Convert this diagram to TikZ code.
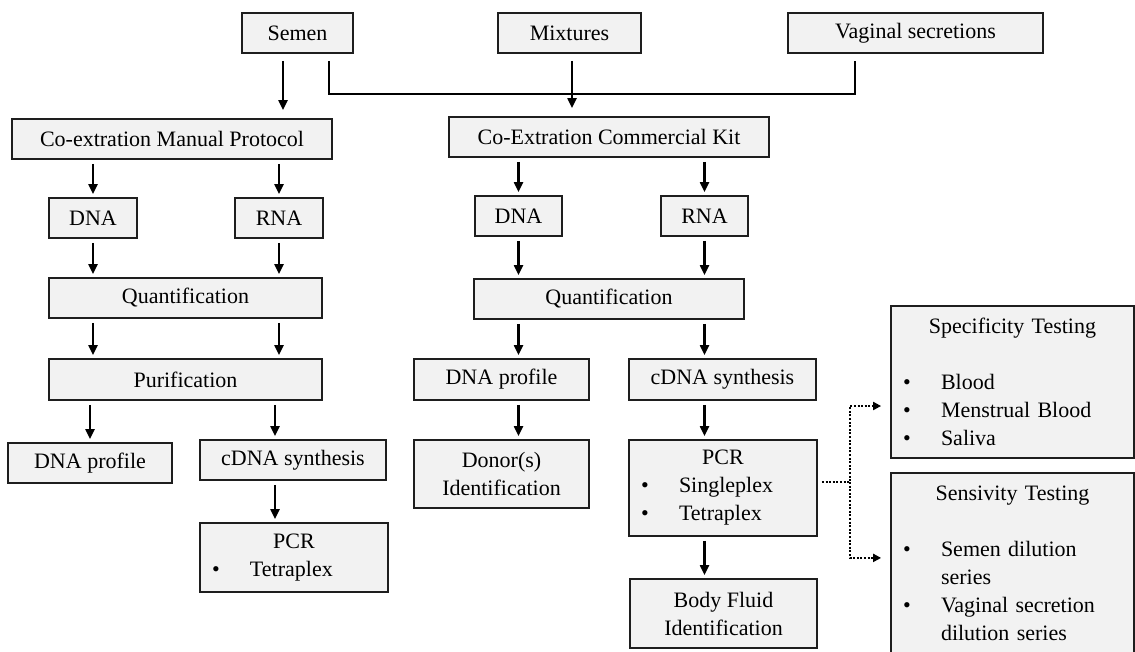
\documentclass[tikz,border=0pt]{standalone}
\usepackage{fontspec}
\setmainfont{Liberation Serif}
\usetikzlibrary{arrows.meta, positioning}

\definecolor{boxgray}{HTML}{F2F2F2}
\definecolor{rulegray}{HTML}{1E1E1E}
\newcommand{\bul}{\makebox[38pt][l]{\textbullet}}
\newcommand{\ctr}[1]{\null\hspace*{\fill}#1\hspace*{\fill}\null}

\begin{document}
\begin{tikzpicture}[x=1pt, y=-1pt, ->, >={Triangle[length=10pt,width=9pt]}, shorten >=3pt, shorten <=4pt, line width=2.1pt, font=\fontsize{22}{28}\selectfont]
	\tikzstyle{stage}=[draw=rulegray, fill=boxgray, line width=1.8pt, minimum height=40pt, inner sep=0pt, align=center]
	\tikzstyle{listbox}=[stage, align=left, inner xsep=12pt, inner ysep=7pt]
	\tikzstyle{test}=[line width=2.2pt, dash pattern=on 2pt off 1.6pt, -{Triangle[length=8pt,width=8pt]}, shorten <=4pt, shorten >=9pt]

	\useasboundingbox (0,0) rectangle (1135,651);
	\clip (0,0) rectangle (1135,651);

	\node[stage, minimum width=111pt] (semen)    at (297.5,33) {Semen};
	\node[stage, minimum width=143pt] (mixtures) at (569.5,33) {Mixtures};
	\node[stage, minimum width=255pt] (vaginal)  at (915.5,33) {Vaginal secretions};

	\node[stage, minimum width=320pt] (manual) at (172,139) {Co-extration Manual Protocol};
	\node[stage, minimum width=88pt]  (dnaL)   at (93,218)  {DNA};
	\node[stage, minimum width=88pt]  (rnaL)   at (279,218) {RNA};
	\node[stage, minimum width=273pt] (quantL) at (185.5,298) {Quantification};
	\node[stage, minimum width=273pt, minimum height=41pt] (purif) at (185.5,379.5) {Purification};
	\node[stage, minimum width=164pt] (profL)  at (90,463)  {DNA profile};
	\node[stage, minimum width=186pt] (cdnaL)  at (293,460) {cDNA synthesis};
	\node[listbox, text width=164pt, minimum height=69pt] (pcrL) at (294,557.5) {\ctr{PCR}\\\bul Tetraplex};

	\node[stage, minimum width=320pt] (kit)    at (609,137)   {Co-Extration Commercial Kit};
	\node[stage, minimum width=87pt]  (dnaR)   at (518.5,216) {DNA};
	\node[stage, minimum width=87pt]  (rnaR)   at (704.5,216) {RNA};
	\node[stage, minimum width=270pt] (quantR) at (609,299)   {Quantification};
	\node[stage, minimum width=175pt, minimum height=41pt] (profR) at (501.5,379.5) {DNA profile};
	\node[stage, minimum width=175pt, minimum height=68pt] (donor) at (501.5,474)   {Donor(s)\\Identification};
	\node[stage, minimum width=187pt, minimum height=41pt] (cdnaR) at (722.5,379.5) {cDNA synthesis};
	\node[listbox, text width=164pt, minimum height=96pt] (pcrR) at (723,488) {\ctr{PCR}\\\bul Singleplex\\\bul Tetraplex};
	\node[stage, minimum width=187pt, minimum height=69pt] (body)  at (723.5,613.5) {Body Fluid\\Identification};

	\node[listbox, text width=219pt, minimum height=152pt] (spec) at (1012.5,382)
		{\ctr{Specificity Testing}\\[28pt]\bul Blood\\\bul Menstrual Blood\\\bul Saliva};
	\node[listbox, text width=219pt, minimum height=181pt, anchor=north] (sens) at (1012.5,472)
		{\ctr{Sensivity Testing}\\[28pt]\bul Semen dilution\\\hspace*{38pt}series\\\bul Vaginal secretion\\\hspace*{38pt}dilution series};

	\coordinate (sdown) at ([xshift=-14.5pt]semen.south);
	\coordinate (sjoin) at ([xshift=31.5pt]semen.south);
	\coordinate (vjoin) at ([xshift=-60.5pt]vaginal.south);
	\coordinate (mdown) at ([xshift=2.5pt]mixtures.south);
	\coordinate (lcol)  at (275,0);
	\coordinate (fork)  at ([xshift=32pt, yshift=6pt]pcrR.east);

	\path[shorten <=7pt, shorten >=8pt] (sdown) edge (sdown |- manual.north)
		(mdown) edge (mdown |- kit.north);
	\draw[-, shorten <=7pt, shorten >=7pt] (sjoin) -- ++(0,40) -| (vjoin);

	\path (dnaL |- manual.south) edge (dnaL)
		(rnaL |- manual.south) edge (rnaL)
		(dnaL) edge (dnaL |- quantL.north)
		(rnaL) edge (rnaL |- quantL.north)
		(dnaL |- quantL.south) edge (dnaL |- purif.north)
		(rnaL |- quantL.south) edge (rnaL |- purif.north)
		(profL |- purif.south) edge (profL)
		(lcol |- purif.south) edge (lcol |- cdnaL.north)
		(lcol |- cdnaL.south) edge (lcol |- pcrL.north);

	\path (dnaR |- kit.south) edge (dnaR)
		(rnaR |- kit.south) edge (rnaR)
		(dnaR) edge (dnaR |- quantR.north)
		(rnaR) edge (rnaR |- quantR.north)
		(dnaR |- quantR.south) edge (dnaR |- profR.north)
		(rnaR |- quantR.south) edge (rnaR |- cdnaR.north)
		(dnaR |- profR.south) edge (dnaR |- donor.north)
		(rnaR |- cdnaR.south) edge (rnaR |- pcrR.north)
		(rnaR |- pcrR.south) edge (rnaR |- body.north);

	\draw[test] ([yshift=6pt]pcrR.east) -- (fork) |- ([yshift=-24pt]spec.west);
	\draw[test, shorten <=0pt] (fork) |- ([yshift=5.5pt]sens.west);
\end{tikzpicture}
\end{document}
